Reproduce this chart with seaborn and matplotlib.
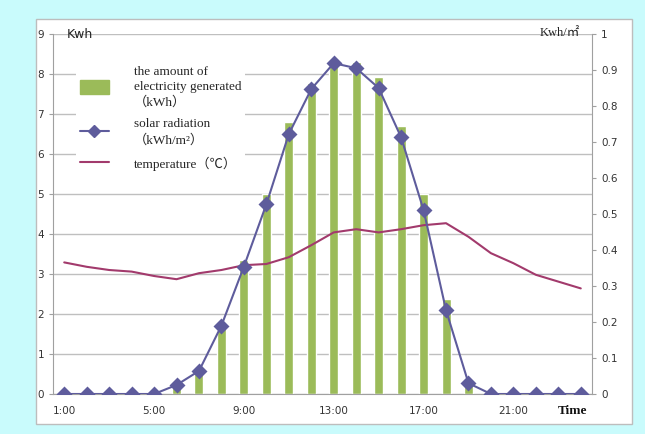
import numpy as np
import pandas as pd
import matplotlib
matplotlib.use("Agg")
import matplotlib.pyplot as plt
import seaborn as sns
from matplotlib.patches import Rectangle, Patch
from matplotlib.lines import Line2D

hours = [f"{h}:00" for h in range(1, 25)]
electricity = [0, 0, 0, 0, 0, 0.18, 0.6, 1.77, 3.35, 5.0, 6.8, 7.77, 8.3, 8.3,
               7.92, 6.7, 5.0, 2.38, 0.35, 0, 0, 0, 0, 0]
radiation = [0, 0, 0, 0, 0, 0.025, 0.064, 0.19, 0.354, 0.527, 0.722, 0.847, 0.919,
             0.905, 0.85, 0.713, 0.511, 0.233, 0.03, 0, 0, 0, 0, 0]
temperature = [3.29, 3.18, 3.1, 3.06, 2.95, 2.87, 3.02, 3.1, 3.22, 3.25, 3.42, 3.72,
               4.04, 4.12, 4.04, 4.12, 4.22, 4.27, 3.93, 3.52, 3.27, 2.98, 2.81, 2.64]
shown_ticks = ["1:00", "5:00", "9:00", "13:00", "17:00", "21:00"]
left_ticks = list(range(0, 10))
right_ticks = [0, 0.1, 0.2, 0.3, 0.4, 0.5, 0.6, 0.7, 0.8, 0.9, 1]

df = pd.DataFrame({"hour": hours, "electricity": electricity,
                   "radiation": radiation, "temperature": temperature})

sns.set_style("white")
plt.rcParams['font.family'] = ['DejaVu Sans']

BAR = "#9BBB59"
RAD = "#5E5C9C"
TEMP = "#A23A6C"
GRID = "#BFBFBF"
TXT = "#333333"

fig = plt.figure(figsize=(6.45, 4.34), dpi=100)
fig.patch.set_facecolor("#C9FBFC")
fig.patches.append(Rectangle((36/645, 1-424/434), (632-36)/645, (424-19)/434,
                             transform=fig.transFigure, facecolor="white",
                             edgecolor="#BDBDBD", linewidth=1.0, zorder=-5))

ax = fig.add_axes([53/645, 1-394/434, (592-53)/645, (394-34)/434])
ax.set_facecolor("none")

sns.barplot(data=df, x="hour", y="electricity", order=hours, color=BAR,
            width=0.4, saturation=1, ax=ax, zorder=2)
sns.pointplot(data=df, x="hour", y="temperature", order=hours, color=TEMP,
              markers="", linestyles="-", ax=ax, zorder=3)
for l in ax.lines:
    l.set_linewidth(1.5)

ax.set_ylim(0, 9)
ax.set_xlim(-0.5, 23.5)
ax.set_yticks(left_ticks)
ax.yaxis.grid(True, color=GRID, linewidth=1.0)
ax.set_axisbelow(True)
ax.set_xticks([hours.index(t) for t in shown_ticks])
ax.set_xticklabels(shown_ticks)
ax.tick_params(axis="x", length=0, pad=9, labelsize=7.5, labelcolor=TXT)
ax.tick_params(axis="y", length=3, width=0.8, color="#A0A0A0", direction="out",
               pad=3.5, labelsize=7.5, labelcolor=TXT, left=True)
ax.set_xlabel("")
ax.set_ylabel("")
for s in ["top", "right"]:
    ax.spines[s].set_visible(False)
for s in ["left", "bottom"]:
    ax.spines[s].set_color("#A0A0A0")
    ax.spines[s].set_linewidth(0.8)

ax2 = ax.twinx()
ax2.patch.set_visible(False)
sns.pointplot(data=df, x="hour", y="radiation", order=hours, color=RAD,
              markers="D", linestyles="-", ax=ax2, zorder=4)
for l in ax2.lines:
    l.set_linewidth(1.5)
    l.set_markersize(6)
ax2.set_ylim(0, 1)
ax2.set_xlim(-0.5, 23.5)
ax2.set_yticks(right_ticks)
ax2.set_yticklabels(["0"] + [f"{v:g}" for v in right_ticks[1:]])
ax2.tick_params(axis="y", length=3, width=0.8, color="#A0A0A0", direction="out",
                pad=3.5, labelsize=7.5, labelcolor=TXT, right=True)
ax2.set_ylabel("")
ax2.set_xlabel("")
for s in ["top", "left", "bottom"]:
    ax2.spines[s].set_visible(False)
ax2.spines["right"].set_color("#A0A0A0")
ax2.spines["right"].set_linewidth(0.8)
ax2.grid(False)

serif = ['Liberation Serif', 'Noto Sans CJK SC']
fig.text(67/645, 1-34/434, "Kwh", fontsize=9, color="#222222",
         ha="left", va="center")
fig.text(540/645, 1-33/434, "Kwh/㎡", fontsize=9, color="#222222",
         ha="left", va="center", family=serif)
fig.text(573/645, 1-411/434, "Time", fontsize=9.5, fontweight="bold",
         color="#111111", ha="center", va="center", family=serif)

handles = [Patch(facecolor=BAR, edgecolor=BAR),
           Line2D([], [], color=RAD, marker="D", markersize=6, linewidth=1.5),
           Line2D([], [], color=TEMP, linewidth=1.5)]
labels = ["the amount of\nelectricity generated\n（kWh）",
          "solar radiation\n（kWh/m²）",
          "temperature（℃）"]
leg = ax2.legend(handles, labels, loc="upper left",
                 bbox_to_anchor=(16/539, 1-21/360), frameon=True,
                 prop={"family": serif, "size": 9.5}, handlelength=2.2,
                 handleheight=1.2, handletextpad=1.9, labelspacing=0.75,
                 borderpad=0.3, borderaxespad=0.5, framealpha=1,
                 edgecolor="white")
leg.get_frame().set_linewidth(0)
for t in leg.get_texts():
    t.set_linespacing(1.35)
leg.set_zorder(10)

fig.savefig("out.png", dpi=100, facecolor=fig.get_facecolor())
